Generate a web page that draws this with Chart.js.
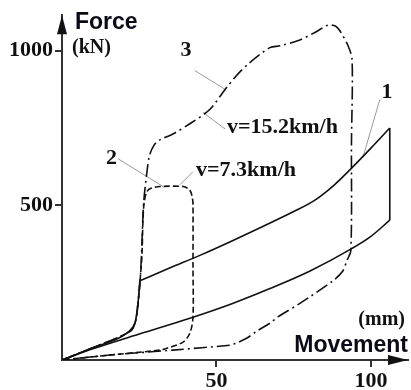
<!DOCTYPE html>
<html>
<head>
<meta charset="utf-8">
<script src="https://cdn.jsdelivr.net/npm/chart.js@4.4.1/dist/chart.umd.min.js"></script>
<style>
  html, body { margin: 0; padding: 0; background: #fff; }
  #wrap { width: 411px; height: 390px; }
</style>
</head>
<body>
<div id="wrap"><canvas id="forceChart" width="411" height="390"></canvas></div>
<script>
// curve 1 - static loop (solid), split in branches
const loadX = [0, 10, 21.0, 23.6, 24.6, 25.2];
const loadY = [0, 40, 87, 119, 183, 256];
const upperX = [25.2, 35, 45, 55, 65, 75, 82, 88, 93.2, 100, 106.1];
const upperY = [256, 298, 340, 385, 432, 480, 518, 565, 615, 685, 750];
const dropX = [106.1, 106.1];
const dropY = [750, 452];
const lowerX = [0, 10, 25, 41.4, 55, 67.3, 80.3, 93.2, 100, 106.1];
const lowerY = [0, 36, 84, 135, 182, 231, 288, 357, 400, 452];

// curve 2 - v=7.3km/h (dashed)
const curve2X = [0, 10, 21.0, 23.6, 24.6, 25.3, 25.9, 26.2, 26.6, 27.5, 29, 31.7, 39.2, 41.3, 42.1,
                 42.4, 42.4, 42.4, 41.4, 39.2, 34.0, 31.7, 15.5, 0];
const curve2Y = [0, 40, 87, 119, 183, 260, 343, 450, 510, 545, 556, 561, 561, 550, 530,
                 503, 300, 138, 87, 58, 38, 32, 16, 0];

// curve 3 - v=15.2km/h (dash-dot)
const curve3X = [0, 10, 21.0, 23.6, 24.6, 25.5, 26.4, 27.4, 28.3, 29.8, 31.7, 35.9, 42, 47.9, 52.8,
                 56.5, 60.8, 67.3, 70.6, 77.0, 82, 86.1, 88.5, 90.0, 92.6, 93.9, 93.7, 93.5, 92.2,
                 90.9, 87.7, 77.0, 70, 67.3, 63, 59.9, 56, 54.4, 35.9, 15.5, 0];
const curve3Y = [0, 40, 87, 119, 183, 290, 503, 600, 660, 695, 712, 731, 768, 811, 875,
                 920, 962, 1010, 1016, 1035, 1060, 1083, 1080, 1064, 1016, 971, 700, 353, 321,
                 288, 256, 183, 140, 119, 93, 71, 53, 48, 32, 16, 0];

const xTicks = [50, 100];
const yTicks = [500, 1000];

// curve labels: text, anchor x (mm), anchor y (kN)
const labelText = ["3", "v=15.2km/h", "2", "v=7.3km/h", "1"];
const labelX = [40.1, 53.4, 16.0, 43.4, 105.2];
const labelY = [1000, 753, 651, 615, 865];
const labelCentered = [true, false, true, false, true];

// leader lines: from (x0,y0) to (x1,y1)
const leaderX0 = [43.0, 45.6, 18.1, 38.2, 102.9];
const leaderY0 = [936, 801, 651, 567, 843];
const leaderX1 = [52.8, 52.8, 32.7, 42.4, 97.4];
const leaderY1 = [875, 747, 561, 609, 655];

const toPoints = (xs, ys) => xs.map((x, i) => ({ x: x, y: ys[i] }));

const solid = (xs, ys) => ({
  data: toPoints(xs, ys),
  borderColor: "#111",
  borderWidth: 1.6,
  pointRadius: 0,
  showLine: true,
  cubicInterpolationMode: "monotone"
});

const leaderSets = leaderX0.map((x0, i) => ({
  data: [{ x: x0, y: leaderY0[i] }, { x: leaderX1[i], y: leaderY1[i] }],
  borderColor: "#9a9a9a",
  borderWidth: 1,
  pointRadius: 0,
  showLine: true,
  tension: 0
}));

const axisDecor = {
  id: "axisDecor",
  afterDraw(chart) {
    const ctx = chart.ctx;
    const xs = chart.scales.x;
    const ys = chart.scales.y;
    const x0 = xs.left;
    const y0 = ys.bottom;
    ctx.save();
    ctx.fillStyle = "#111";
    // arrow heads
    ctx.beginPath();
    ctx.moveTo(x0, ys.top);
    ctx.lineTo(x0 - 5, ys.top + 19);
    ctx.lineTo(x0 + 5, ys.top + 19);
    ctx.closePath();
    ctx.fill();
    ctx.beginPath();
    ctx.moveTo(xs.right, y0);
    ctx.lineTo(xs.right - 20, y0 - 5);
    ctx.lineTo(xs.right - 20, y0 + 5);
    ctx.closePath();
    ctx.fill();

    // axis titles
    ctx.fillStyle = "#0b0b18";
    ctx.textBaseline = "alphabetic";
    ctx.textAlign = "left";
    ctx.font = "bold 23px 'Liberation Sans', Arial, sans-serif";
    ctx.fillText("Force", 75, 29);
    ctx.textAlign = "right";
    ctx.fillText("Movement", 408, 352);
    ctx.fillStyle = "#111";
    ctx.font = "bold 20px 'Liberation Serif', 'Times New Roman', serif";
    ctx.textAlign = "left";
    ctx.fillText("(kN)", 72, 53);
    ctx.textAlign = "right";
    ctx.fillText("(mm)", 405, 325);

    // curve labels
    ctx.font = "bold 22px 'Liberation Serif', 'Times New Roman', serif";
    ctx.textBaseline = "middle";
    labelText.forEach((t, i) => {
      ctx.textAlign = labelCentered[i] ? "center" : "left";
      ctx.fillText(t, xs.getPixelForValue(labelX[i]), ys.getPixelForValue(labelY[i]));
    });
    ctx.restore();
  }
};

const tickFont = { family: "'Liberation Serif', 'Times New Roman', serif", size: 22, weight: "bold" };

new Chart(document.getElementById("forceChart"), {
  type: "scatter",
  data: {
    datasets: [
      solid(loadX, loadY),
      solid(upperX, upperY),
      solid(dropX, dropY),
      solid(lowerX, lowerY),
      {
        label: "2",
        data: toPoints(curve2X, curve2Y),
        borderColor: "#111",
        borderWidth: 1.6,
        borderDash: [6, 3],
        pointRadius: 0,
        showLine: true,
        tension: 0.3
      },
      {
        label: "3",
        data: toPoints(curve3X, curve3Y),
        borderColor: "#111",
        borderWidth: 1.6,
        borderDash: [13, 4, 2, 4],
        pointRadius: 0,
        showLine: true,
        tension: 0.3
      },
      ...leaderSets
    ]
  },
  options: {
    responsive: false,
    animation: false,
    devicePixelRatio: 1,
    layout: { padding: { top: 12, right: 3, left: 0, bottom: 0 } },
    plugins: { legend: { display: false }, tooltip: { enabled: false } },
    scales: {
      x: {
        type: "linear",
        min: 0,
        max: 112,
        afterBuildTicks: (s) => { s.ticks = xTicks.map(v => ({ value: v })); },
        afterFit: (s) => { s.height = 30; },
        grid: { drawOnChartArea: false, color: "#333", lineWidth: 2, tickLength: 7 },
        border: { color: "#333", width: 2 },
        ticks: { color: "#111", font: tickFont, padding: 1, maxRotation: 0, callback: (v) => String(v) }
      },
      y: {
        type: "linear",
        min: 0,
        max: 1115,
        afterBuildTicks: (s) => { s.ticks = yTicks.map(v => ({ value: v })); },
        afterFit: (s) => { s.width = 62; },
        grid: { drawOnChartArea: false, color: "#333", lineWidth: 2, tickLength: 7 },
        border: { color: "#333", width: 2 },
        ticks: { color: "#111", font: tickFont, padding: 2, callback: (v) => String(v) }
      }
    }
  },
  plugins: [axisDecor]
});
</script>
</body>
</html>
